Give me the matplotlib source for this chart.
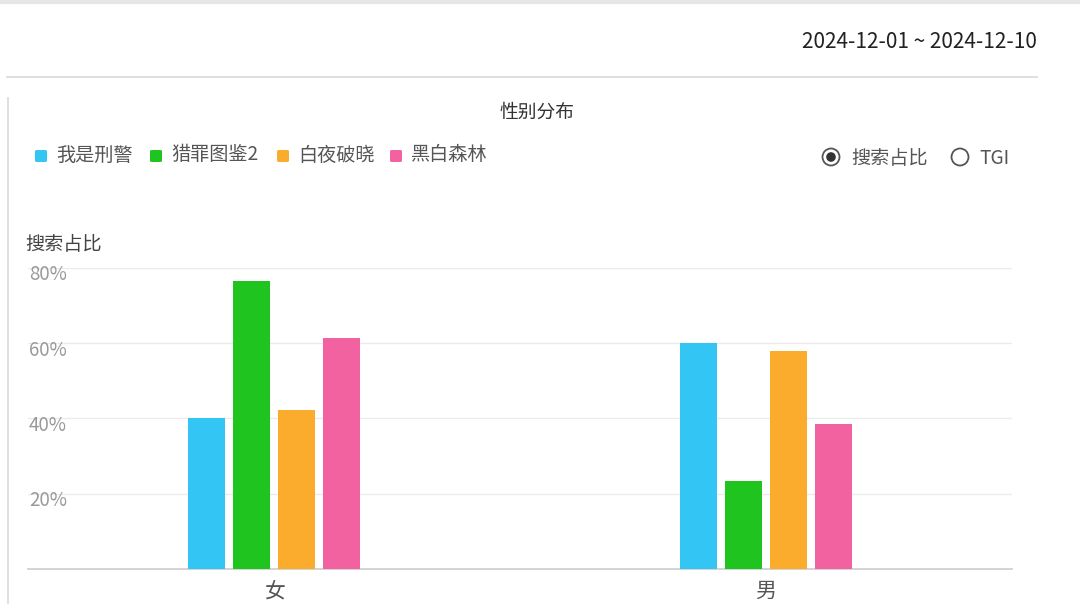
import matplotlib
matplotlib.use("Agg")
import matplotlib.pyplot as plt
from matplotlib.patches import Circle, FancyBboxPatch
from matplotlib.lines import Line2D
import matplotlib.transforms as mtransforms
import numpy as np

plt.rcParams['font.family'] = ['Noto Sans CJK SC', 'DejaVu Sans']

categories = ["女", "男"]
series_names = ["我是刑警", "猎罪图鉴2", "白夜破晓", "黑白森林"]
values = {
    "我是刑警": [40.0, 60.0],
    "猎罪图鉴2": [76.6, 23.4],
    "白夜破晓": [42.1, 57.9],
    "黑白森林": [61.4, 38.6],
}
colors = ["#33C6F4", "#1FC41F", "#FBAC2D", "#F262A1"]
yticks = [20, 40, 60, 80]
ytick_labels = ["20%", "40%", "60%", "80%"]
title = "性别分布"
date_range = "2024-12-01 ~ 2024-12-10"
y_title = "搜索占比"
radio_labels = ["搜索占比", "TGI"]

W, H = 1080, 616
fig = plt.figure(figsize=(W / 100, H / 100), dpi=100)
fig.patch.set_facecolor("white")

def fx(px):
    return px / W

def fy(py):
    return 1 - py / H

# decorative frame lines
fig.add_artist(Line2D([fx(0), fx(1080)], [fy(1.5), fy(1.5)], color="#e6e6e6", lw=3))
fig.add_artist(Line2D([fx(7), fx(1037)], [fy(77), fy(77)], color="#dcdcdc", lw=1.3))
fig.add_artist(Line2D([fx(8), fx(8)], [fy(98), fy(603)], color="#dcdcdc", lw=1.3))

fig.text(fx(1037), fy(42), date_range, ha="right", va="center", fontsize=15, color="#222222")
fig.text(fx(537), fy(112), title, ha="center", va="center", fontsize=13.5, color="#333333", fontweight="medium")

# legend
leg_x = [35, 150, 277, 390]
for name, c, x in zip(series_names, colors, leg_x):
    fig.add_artist(FancyBboxPatch((fx(x), fy(162)), fx(12), 12 / H,
                                  boxstyle="round,pad=0,rounding_size=0.002",
                                  transform=fig.transFigure, color=c, lw=0))
    fig.text(fx(x + 21), fy(155), name, ha="left", va="center", fontsize=13.8, color="#555555")

# radio buttons (pixel-based circles via inch transform)
def circle(px, py, r, **kw):
    fig.add_artist(Circle((px / 100, (H - py) / 100), r / 100,
                          transform=fig.dpi_scale_trans, **kw))

circle(831, 157, 8.5, facecolor="white", edgecolor="#555555", lw=1.3)
circle(831, 157, 4.8, facecolor="#333333", edgecolor="none")
fig.text(fx(851), fy(158), radio_labels[0], ha="left", va="center", fontsize=13.8, color="#555555")
circle(960, 157, 8.5, facecolor="white", edgecolor="#555555", lw=1.3)
fig.text(fx(979), fy(158), radio_labels[1], ha="left", va="center", fontsize=13.8, color="#555555")

fig.text(fx(25), fy(244), y_title, ha="left", va="center", fontsize=13.8, color="#444444")

# axes
ax = fig.add_axes([fx(28), fy(569), fx(1012) - fx(28), (569 - 267.7) / H])
ax.set_xlim(-0.5, 1.5)
ax.set_ylim(0, 80)
x = np.arange(len(categories))
bw = 0.075
step = 0.092
n = len(series_names)
for i, (name, c) in enumerate(zip(series_names, colors)):
    off = (i - (n - 1) / 2) * step
    ax.bar(x + off, values[name], width=bw, color=c, zorder=3)

for s in ["top", "right", "left"]:
    ax.spines[s].set_visible(False)
ax.spines["bottom"].set_color("#cccccc")
ax.spines["bottom"].set_linewidth(1.2)
ax.set_yticks(yticks)
ax.set_yticklabels([])
ax.tick_params(axis="y", length=0)
ax.grid(axis="y", color="#ebebeb", lw=1, zorder=0)
ax.set_xticks(x)
ax.set_xticklabels(categories, fontsize=15, color="#555555")
ax.tick_params(axis="x", length=0, pad=8)

offset = mtransforms.ScaledTranslation(0, -7 / 100, fig.dpi_scale_trans)
trans = mtransforms.blended_transform_factory(ax.transAxes, ax.transData) + offset
for v, lab in zip(yticks, ytick_labels):
    ax.text(0.001, v, lab, transform=trans, ha="left", va="center", fontsize=13.5, color="#999999")

fig.savefig("out.png", dpi=100, facecolor="white")
